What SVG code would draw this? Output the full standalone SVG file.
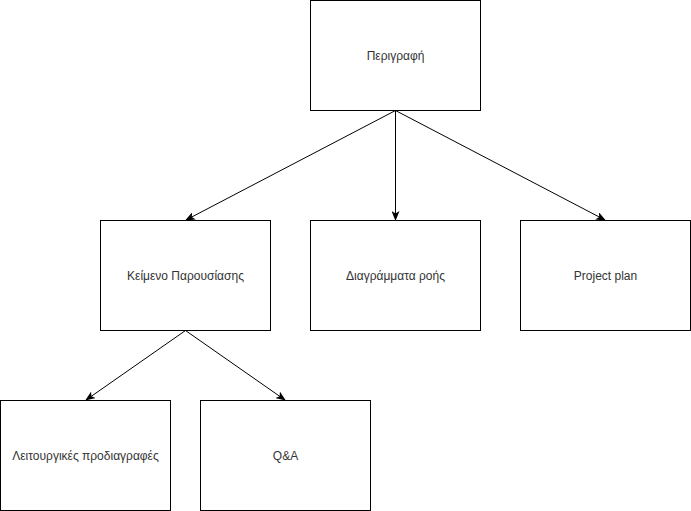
<svg xmlns="http://www.w3.org/2000/svg" width="691" height="511" viewBox="0 0 691 511">
<defs>
<style>
.box{fill:#fff;stroke:#000;stroke-width:1}
.lbl{font-family:"Liberation Sans",Arial,sans-serif;font-size:12px;fill:#333;text-anchor:middle;dominant-baseline:central}
.edge{stroke:#000;stroke-width:1;fill:none;marker-end:url(#arr)}
</style>
<marker id="arr" viewBox="0 0 10 8" refX="9" refY="4" markerWidth="10" markerHeight="8" markerUnits="userSpaceOnUse" orient="auto">
<path d="M0,0 L10,4 L0,8 L2.5,4 Z" fill="#000"/>
</marker>
</defs>
<rect width="691" height="511" fill="#fff"/>
<g id="edges">
<line class="edge" x1="395.5" y1="110.5" x2="186" y2="220"/>
<line class="edge" x1="395.5" y1="110.5" x2="395.5" y2="220"/>
<line class="edge" x1="395.5" y1="110.5" x2="605" y2="220"/>
<line class="edge" x1="185.5" y1="330.5" x2="86" y2="400"/>
<line class="edge" x1="185.5" y1="330.5" x2="285" y2="400"/>
</g>
<g id="perigrafi"><rect class="box" x="310.5" y="0.5" width="170" height="110"/><text class="lbl" x="395.5" y="55.5">Περιγραφή</text></g>
<g id="keimeno"><rect class="box" x="100.5" y="220.5" width="170" height="110"/><text class="lbl" x="185.5" y="275.5">Κείμενο Παρουσίασης</text></g>
<g id="diagrammata"><rect class="box" x="310.5" y="220.5" width="170" height="110"/><text class="lbl" x="395.5" y="275.5">Διαγράμματα ροής</text></g>
<g id="projectplan"><rect class="box" x="520.5" y="220.5" width="170" height="110"/><text class="lbl" x="605.5" y="275.5">Project plan</text></g>
<g id="leitourgikes"><rect class="box" x="0.5" y="400.5" width="170" height="110"/><text class="lbl" x="85.5" y="455.5">Λειτουργικές προδιαγραφές</text></g>
<g id="qa"><rect class="box" x="200.5" y="400.5" width="170" height="110"/><text class="lbl" x="285.5" y="455.5">Q&amp;A</text></g>
</svg>
